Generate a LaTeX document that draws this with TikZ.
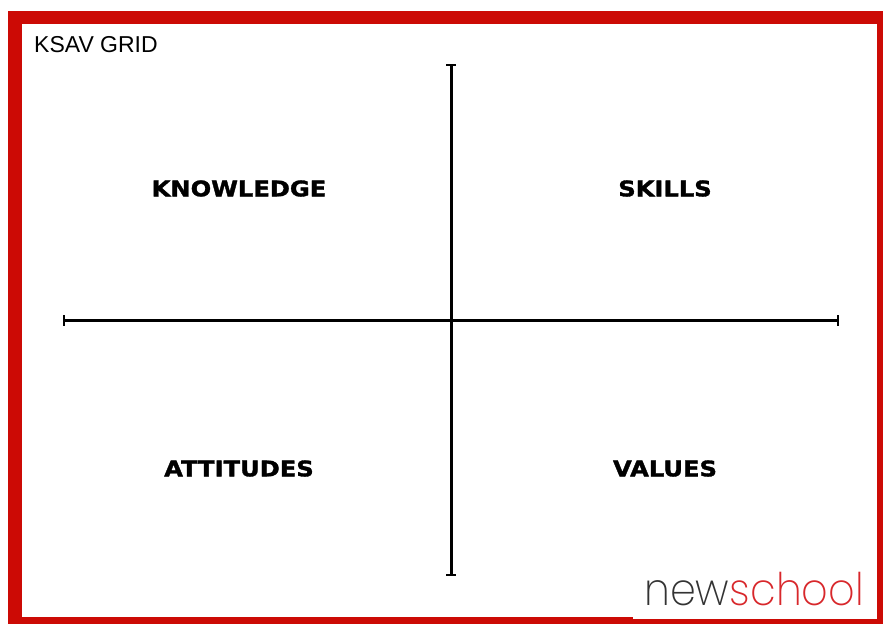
\documentclass[tikz,border=0pt]{standalone}
\usepackage{fontspec}
\setmainfont{Liberation Sans}
\newfontfamily\heavyfont[FakeStretch=1.125,FakeBold=1.6]{DejaVu Sans Bold}
\newfontfamily\logofont[UprightFont=*-ExtraLight,FakeStretch=0.92]{Poppins}
\definecolor{framered}{HTML}{CC0A05}
\definecolor{logored}{HTML}{D8272B}
\definecolor{logogray}{HTML}{333333}
\tikzset{
  axis/.style={draw=black,line width=3pt},
  tick/.style={draw=black,line width=1.8pt},
  quadrant/.style={font=\heavyfont\fontsize{21.5}{25}\selectfont,text=black,inner sep=0pt,anchor=center},
  titlelabel/.style={font=\fontsize{23}{27}\selectfont,text=black,inner sep=0pt,anchor=west},
  logotext/.style={font=\logofont\fontsize{45}{52}\selectfont,inner sep=0pt,anchor=base west}
}
\begin{document}
\begin{tikzpicture}[x=1pt,y=-1pt]
\useasboundingbox (0,0) rectangle (883,624);
\fill[white] (0,0) rectangle (883,624);
\fill[framered] (8,11) rectangle (883,624);
\fill[white] (22,24) rectangle (877,617);
\fill[white] (633,590) rectangle (877,619);
\coordinate (vt) at (451,65);
\coordinate (vb) at (451,575);
\coordinate (hl) at (64,320);
\coordinate (hr) at (838,320);
\draw[axis] (vt) -- (vb);
\draw[axis] (hl) -- (hr);
\draw[tick] ([xshift=-5pt]vt) -- ([xshift=5pt]vt);
\draw[tick] ([xshift=-5pt]vb) -- ([xshift=5pt]vb);
\draw[tick] ([yshift=-5.5pt]hl) -- ([yshift=5.5pt]hl);
\draw[tick] ([yshift=-5.5pt]hr) -- ([yshift=5.5pt]hr);
\node[titlelabel] (title) at (34,45) {KSAV GRID};
\node[quadrant] (k) at (239,188.5) {KNOWLEDGE};
\node[quadrant] (s) at (665,188.5) {SKILLS};
\node[quadrant] (a) at (239,468.5) {ATTITUDES};
\node[quadrant] (v) at (665,468.5) {VALUES};
\node[logotext,text=logogray] (new) at (644,605) {new};
\node[logotext,text=logored,anchor=base west] (school) at (new.base east) {school};
\end{tikzpicture}
\end{document}
